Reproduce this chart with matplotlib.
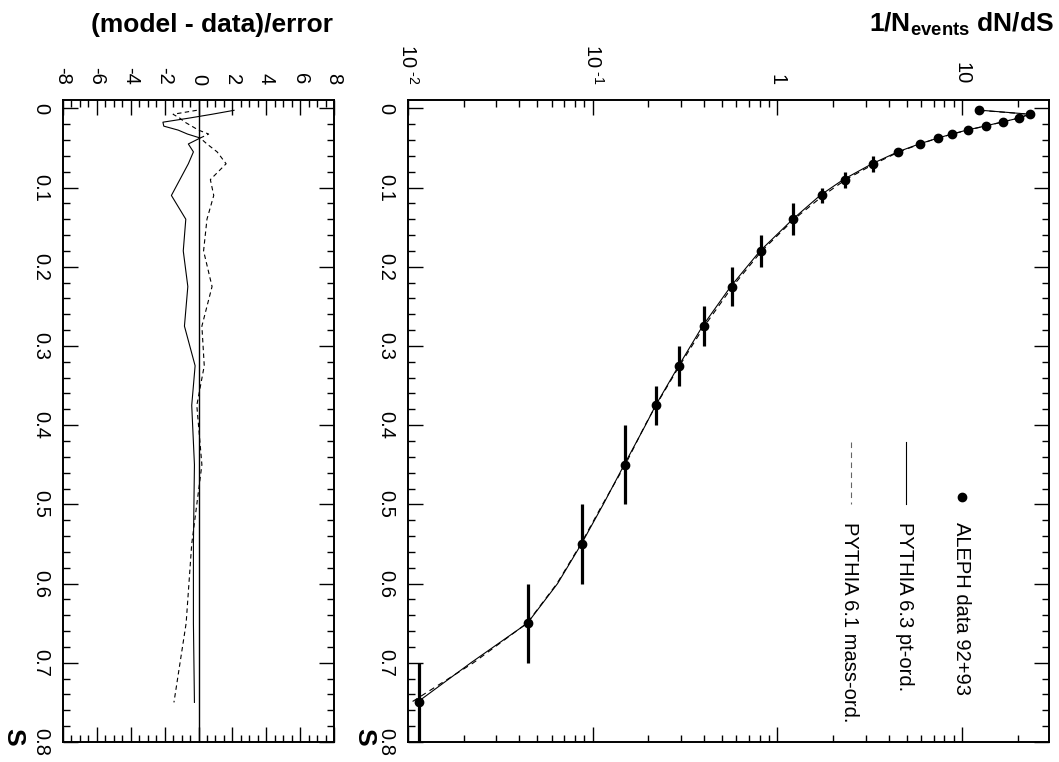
import matplotlib
matplotlib.use('Agg')
import matplotlib.pyplot as plt
from matplotlib.ticker import (MultipleLocator, FixedLocator, LogLocator,
                               FuncFormatter, NullFormatter)

plt.rcParams['font.family'] = ['Liberation Sans', 'DejaVu Sans']
plt.rcParams['mathtext.fontset'] = 'custom'
plt.rcParams['mathtext.rm'] = 'Liberation Sans'
plt.rcParams['mathtext.it'] = 'Liberation Sans:italic'
plt.rcParams['mathtext.bf'] = 'Liberation Sans:bold'

# ---- data ----
s_centers = [0.0025, 0.0075, 0.0125, 0.0175, 0.0225, 0.0275, 0.0325, 0.0375,
             0.045, 0.055, 0.07, 0.09, 0.11, 0.14, 0.18, 0.225, 0.275, 0.325,
             0.375, 0.45, 0.55, 0.65, 0.75]
s_halfwidth = [0.0025] * 8 + [0.005, 0.005, 0.01, 0.01, 0.01, 0.02, 0.02,
                              0.025, 0.025, 0.025, 0.025, 0.05, 0.05, 0.05, 0.05]
aleph = [12.4, 23.3, 20.2, 16.6, 13.4, 10.7, 8.83, 7.39, 5.88, 4.49, 3.27,
         2.31, 1.74, 1.22, 0.817, 0.564, 0.400, 0.293, 0.221, 0.149, 0.0873,
         0.0447, 0.0114]

s_model = [0.0025, 0.0075, 0.0125, 0.0175, 0.0225, 0.0275, 0.0325, 0.0375,
           0.045, 0.055, 0.07, 0.09, 0.11, 0.14, 0.18, 0.225, 0.275, 0.325,
           0.375, 0.4, 0.45, 0.5, 0.55, 0.6, 0.65, 0.7, 0.75]
pythia63 = [12.7, 23.4, 20.1, 16.3, 13.2, 10.6, 8.78, 7.40, 5.85, 4.48, 3.25,
            2.27, 1.70, 1.21, 0.805, 0.558, 0.393, 0.292, 0.219, 0.193, 0.148,
            0.114, 0.0868, 0.0645, 0.0443, 0.0219, 0.0112]
pythia61 = [12.4, 23.0, 20.0, 16.4, 13.3, 10.7, 8.88, 7.40, 5.92, 4.55, 3.35,
            2.34, 1.77, 1.23, 0.822, 0.571, 0.402, 0.295, 0.220, 0.192, 0.150,
            0.113, 0.0862, 0.0640, 0.0441, 0.0226, 0.0104]

res_pt = [2.1, 0.8, -0.6, -2.1, -2.05, -1.2, -0.65, 0.1, -0.6, -0.3, -0.6,
          -1.1, -1.6, -0.75, -0.9, -0.63, -0.83, -0.2, -0.4, -0.24, -0.3,
          -0.3, -0.24]
res_mass = [-0.1, -1.5, -1.1, -0.8, -0.4, 0.0, 0.6, 0.1, 0.5, 1.1, 1.63,
            0.7, 0.9, 0.5, 0.3, 0.8, 0.2, 0.34, -0.1, 0.2, -0.4, -0.73, -1.45]

log_ticks = [0.01, 0.1, 1, 10]
log_labels = [r'$10^{\ \text{-}2}$', r'$10^{\ \text{-}1}$', '1', '10']

W, H = 1059, 762
fig = plt.figure(figsize=(W / 100, H / 100), dpi=100)
ax = fig.add_axes([408 / W, 20 / H, 641 / W, 642 / H])
res = fig.add_axes([63 / W, 20 / H, 271 / W, 642 / H])

# ---- main panel ----
ax.set_xscale('log')
ax.errorbar(aleph, s_centers, yerr=s_halfwidth, fmt='o', color='k', ms=6,
            elinewidth=2.3, capsize=0, zorder=3)
ax.plot(pythia63, s_model, '-', color='k', lw=0.8)
ax.plot(pythia61, s_model, '--', color='k', lw=0.8, dashes=(5, 4))
ax.set_xlim(0.01, 29.5)
ax.set_ylim(0.8, -0.0105)

ax.xaxis.set_major_locator(FixedLocator(log_ticks))
ax.xaxis.set_major_formatter(FuncFormatter(
    lambda v, p: log_labels[log_ticks.index(v)] if v in log_ticks else ''))
ax.xaxis.set_minor_locator(LogLocator(base=10, subs=range(2, 10)))
ax.xaxis.set_minor_formatter(NullFormatter())

# legend drawn by hand because the whole plot is turned on its side
ax.plot([0.864], [0.382], 'o', color='k', ms=6, transform=ax.transAxes)
ax.plot([0.777, 0.777], [0.468, 0.371], '-', color='k', lw=0.8,
        transform=ax.transAxes)
ax.plot([0.691, 0.691], [0.468, 0.371], '--', color='0.4', lw=0.8,
        dashes=(5, 4), transform=ax.transAxes)
legend_text = ['ALEPH data 92+93', 'PYTHIA 6.3 pt-ord.', 'PYTHIA 6.1 mass-ord.']
for xpos, txt in zip([0.864, 0.775, 0.689], legend_text):
    ax.text(xpos, 0.343, txt, rotation=270, ha='center', va='top',
            fontsize=14.5, transform=ax.transAxes)

# ---- residual panel ----
res.axvline(0, color='k', lw=1.0)
res.plot(res_pt, s_centers, '-', color='k', lw=0.8)
res.plot(res_mass, s_centers, '--', color='k', lw=0.8, dashes=(4, 3))
res.set_xlim(-8, 8)
res.set_ylim(0.8, -0.0105)
res.xaxis.set_major_locator(MultipleLocator(2))
res.xaxis.set_minor_locator(MultipleLocator(0.5))
res.xaxis.set_major_formatter(FuncFormatter(lambda v, p: '%d' % round(v)))

for a in (ax, res):
    a.yaxis.set_major_locator(MultipleLocator(0.1))
    a.yaxis.set_minor_locator(MultipleLocator(0.02))
    a.yaxis.set_major_formatter(FuncFormatter(lambda v, p: '%g' % round(v, 2)))
    a.tick_params(axis='both', which='both', direction='in', top=True,
                  bottom=True, left=True, right=True, labeltop=True,
                  labelbottom=False, labelleft=True, labelright=False,
                  width=1.0, labelsize=14.5)
    a.tick_params(axis='both', which='major', length=11)
    a.tick_params(axis='both', which='minor', length=5)
    a.tick_params(axis='x', labelrotation=270, pad=11)
    a.tick_params(axis='y', labelrotation=270, pad=9)
    for lbl in a.get_yticklabels():
        lbl.set_va('center')
    for sp in a.spines.values():
        sp.set_linewidth(1.4)

# ---- titles ----
fig.text(1054 / W, 1 - 32 / H, r'1/N$_{\mathbf{events}}$ dN/dS', ha='right',
         va='baseline', fontsize=19, fontweight='bold')
fig.text(333 / W, 1 - 32 / H, '(model - data)/error', ha='right',
         va='baseline', fontsize=19, fontweight='bold')
fig.text(364 / W, 1 - 737 / H, 'S', rotation=270, ha='center', va='center',
         fontsize=19, fontweight='bold')
fig.text(13 / W, 1 - 737 / H, 'S', rotation=270, ha='center', va='center',
         fontsize=19, fontweight='bold')

fig.savefig('out.png', dpi=100)
